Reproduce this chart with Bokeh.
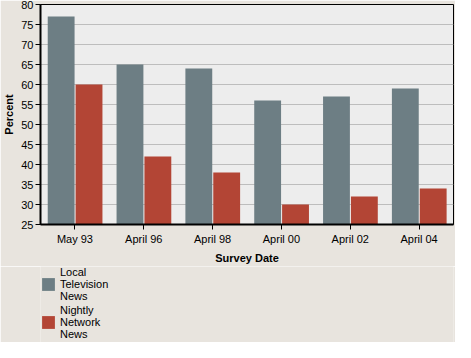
from bokeh.plotting import figure
from bokeh.models import FactorRange, Legend, LegendItem, SingleIntervalTicker, ColumnDataSource
from bokeh.layouts import column
from bokeh.transform import dodge
from bokeh.embed import file_html
from bokeh.resources import INLINE

dates = ["May 93", "April 96", "April 98", "April 00", "April 02", "April 04"]
local_tv = [77, 65, 64, 56, 57, 59]
network_news = [60, 42, 38, 30, 32, 34]
series_names = ["Local\nTelevision\nNews", "Nightly\nNetwork\nNews"]
y_start, y_end, y_step = 25, 80, 5

GREY = "#6D7E84"
RED = "#B34535"
BG = "#E8E4DE"
FONT = "Liberation Sans"

src = ColumnDataSource(dict(date=dates, local=local_tv, network=network_news))

p = figure(width=455, height=266, output_backend="svg", toolbar_location=None,
           x_range=FactorRange(*dates), y_range=(y_start, y_end),
           min_border_left=36, min_border_right=2, min_border_top=4, min_border_bottom=4)

p.background_fill_color = "#EDEDED"
p.border_fill_color = BG
p.outline_line_color = "black"
p.outline_line_width = 1

r1 = p.vbar(x=dodge("date", -0.2, range=p.x_range), top="local", bottom=y_start, width=0.39,
            source=src, fill_color=GREY, line_color=None)
r2 = p.vbar(x=dodge("date", 0.205, range=p.x_range), top="network", bottom=y_start, width=0.39,
            source=src, fill_color=RED, line_color=None)

p.xgrid.grid_line_color = None
p.ygrid.grid_line_color = "#BDBDBD"
p.ygrid.grid_line_width = 1
p.yaxis.ticker = SingleIntervalTicker(interval=y_step)

for ax in (p.xaxis[0], p.yaxis[0]):
    ax.axis_line_color = "black"
    ax.axis_line_width = 2
    ax.major_tick_line_color = "black"
    ax.major_tick_out = 5
    ax.major_tick_in = 0
    ax.minor_tick_line_color = None
    ax.major_label_text_font = FONT
    ax.major_label_text_font_size = "11px"
    ax.major_label_text_color = "black"
    ax.axis_label_text_font = FONT
    ax.axis_label_text_font_size = "11px"
    ax.axis_label_text_font_style = "bold"
    ax.axis_label_text_color = "black"
    ax.major_label_standoff = 2
    ax.axis_label_standoff = 3

p.xaxis.axis_label = "Survey Date"
p.yaxis.axis_label = "Percent"
p.xaxis.major_label_standoff = 3
p.xaxis.axis_label_standoff = 4

# legend-only figure below the chart (its bars lie outside its visible y range)
lf = figure(width=455, height=76, output_backend="svg", toolbar_location=None,
            x_range=FactorRange(*dates), y_range=(y_end, y_end + y_step),
            x_axis_type=None, y_axis_type=None,
            min_border_left=23, min_border_right=0, min_border_top=0, min_border_bottom=0)
lf.background_fill_color = BG
lf.border_fill_color = BG
lf.outline_line_color = None
lf.grid.visible = False
e1 = lf.vbar(x=dodge("date", -0.2, range=lf.x_range), top="local", bottom=y_start, width=0.39,
             source=src, fill_color=GREY, line_color=None)
e2 = lf.vbar(x=dodge("date", 0.205, range=lf.x_range), top="network", bottom=y_start, width=0.39,
             source=src, fill_color=RED, line_color=None)

legend = Legend(items=[LegendItem(label=series_names[0], renderers=[e1]),
                       LegendItem(label=series_names[1], renderers=[e2])],
                location="top_left", orientation="vertical",
                label_text_font=FONT, label_text_font_size="11px",
                label_text_color="black", label_text_line_height=1.05,
                glyph_width=16, glyph_height=16, label_standoff=4, spacing=2,
                padding=0, margin=0, border_line_color=None,
                background_fill_alpha=0)
lf.add_layout(legend, "center")

layout = column(p, lf, spacing=0)
open("out.html", "w").write(file_html(layout, INLINE))
